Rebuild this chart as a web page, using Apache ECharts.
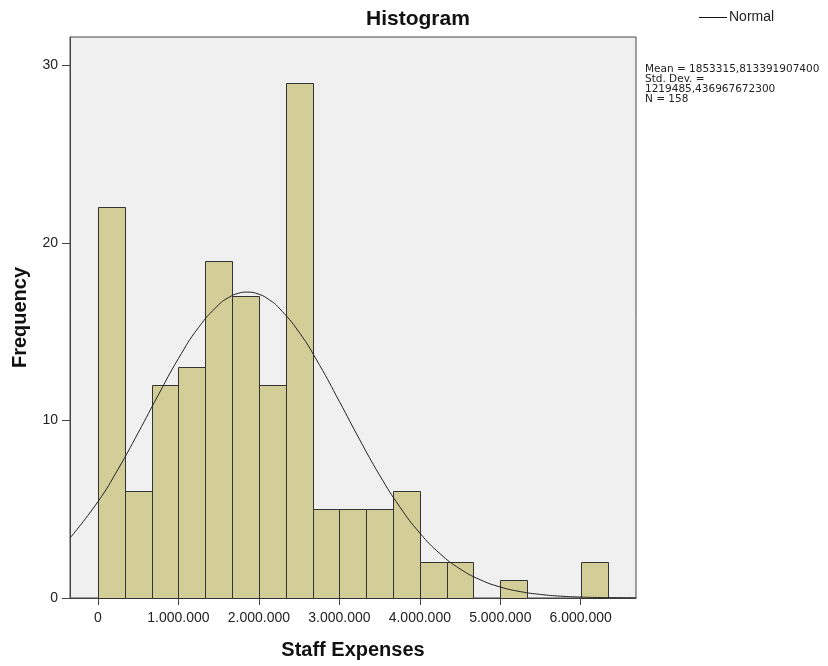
<!DOCTYPE html>
<html>
<head>
<meta charset="utf-8">
<script src="https://cdn.jsdelivr.net/npm/echarts@6/dist/echarts.min.js"></script>
<style>html,body{margin:0;padding:0;background:#fff}#c{width:828px;height:666px}</style>
</head>
<body>
<div id="c"></div>
<script>
// Histogram bins (bin width = 6.000.000 / 18)
const binWidth = 333333.33;
const counts = [22, 6, 12, 13, 19, 17, 12, 29, 5, 5, 5, 6, 2, 2, 0, 1, 0, 0, 2];
// Normal curve (x in units of 1.000.000, y = frequency)
const normalX = [-0.348, 0, 0.25, 0.5, 0.75, 1.0, 1.25, 1.5, 1.625, 1.75, 1.853, 2.0, 2.125, 2.25, 2.5, 2.75, 3.0, 3.25, 3.5, 3.75, 4.0, 4.25, 4.5, 4.75, 5.0, 5.25, 5.5, 5.75, 6.0, 6.25, 6.5, 6.687];
const normalY = [3.38, 5.43, 7.26, 9.31, 11.44, 13.49, 15.24, 16.52, 16.93, 17.17, 17.23, 17.11, 16.81, 16.34, 14.97, 13.15, 11.07, 8.94, 6.92, 5.14, 3.66, 2.50, 1.64, 1.03, 0.62, 0.36, 0.20, 0.105, 0.053, 0.026, 0.012, 0.006];
const xTicks = [0, 1000000, 2000000, 3000000, 4000000, 5000000, 6000000];
const yTicks = [0, 10, 20, 30];
const statsLines = ['Mean = 1853315,813391907400', 'Std. Dev. =', '1219485,436967672300', 'N = 158'];

const barData = counts.map((c, i) => [i * binWidth, (i + 1) * binWidth, c]).filter(d => d[2] > 0);
const lineData = normalX.map((x, i) => [x * 1000000, normalY[i]]);

const fmt = v => String(Math.round(v)).replace(/\B(?=(\d{3})+(?!\d))/g, '.');
const FONT = '"Liberation Sans", Arial, sans-serif';

const chart = echarts.init(document.getElementById('c'), null, {renderer: 'canvas'});
chart.setOption({
  animation: false,
  backgroundColor: '#ffffff',
  title: [
    {text: 'Histogram', left: 366, top: 9, padding: 0,
     textStyle: {fontFamily: FONT, fontSize: 21, fontWeight: 'bold', color: '#111'}},
    {text: statsLines.join('\n'), left: 645, top: 64, padding: 0,
     textStyle: {fontFamily: '"DejaVu Sans", sans-serif', fontSize: 10.5, fontWeight: 'normal', color: '#222', lineHeight: 10}}
  ],
  legend: {
    data: [{name: 'Normal', icon: 'rect', itemStyle: {color: '#111'}}],
    left: 694, top: 5.5, itemWidth: 28, itemHeight: 1, itemGap: 5,
    textStyle: {fontFamily: FONT, fontSize: 14, color: '#222', padding: [0, 0, 0, -3]}
  },
  grid: {left: 70, right: 192, top: 37, bottom: 68, show: true,
         backgroundColor: '#f0f0f0', borderColor: '#444', borderWidth: 1},
  xAxis: {
    type: 'value', min: -348000, max: 6687000,
    name: 'Staff Expenses', nameLocation: 'middle', nameGap: 42,
    nameTextStyle: {fontFamily: FONT, fontSize: 20, fontWeight: 'bold', color: '#111'},
    axisLine: {show: true, onZero: false, lineStyle: {color: '#444', width: 1}},
    axisTick: {show: true, length: 7, lineStyle: {color: '#444'}, customValues: xTicks},
    axisLabel: {customValues: xTicks, formatter: fmt, fontFamily: FONT, fontSize: 14, color: '#222', margin: 13},
    splitLine: {show: false}
  },
  yAxis: {
    type: 'value', min: 0, max: 31.6,
    name: 'Frequency', nameLocation: 'middle', nameGap: 40,
    nameTextStyle: {fontFamily: FONT, fontSize: 20, fontWeight: 'bold', color: '#111'},
    axisLine: {show: true, onZero: false, lineStyle: {color: '#444', width: 1}},
    axisTick: {show: true, length: 8, lineStyle: {color: '#444'}, customValues: yTicks},
    axisLabel: {customValues: yTicks, fontFamily: FONT, fontSize: 14, color: '#222', margin: 12},
    splitLine: {show: false}
  },
  series: [
    {
      type: 'custom', name: 'Counts', data: barData,
      encode: {x: [0, 1], y: 2},
      renderItem: function (params, api) {
        const p0 = api.coord([api.value(0), api.value(2)]);
        const p1 = api.coord([api.value(1), 0]);
        return {
          type: 'rect',
          shape: {x: Math.round(p0[0]) + 0.5, y: Math.round(p0[1]) + 0.5,
                  width: Math.round(p1[0]) - Math.round(p0[0]), height: Math.round(p1[1]) - Math.round(p0[1])},
          style: {fill: '#d3ce97', stroke: '#333', lineWidth: 1}
        };
      },
      z: 2
    },
    {
      type: 'line', name: 'Normal', data: lineData, smooth: true,
      showSymbol: false, symbol: 'none',
      lineStyle: {color: '#222', width: 1}, itemStyle: {color: '#222'},
      z: 3
    }
  ]
});
</script>
</body>
</html>
